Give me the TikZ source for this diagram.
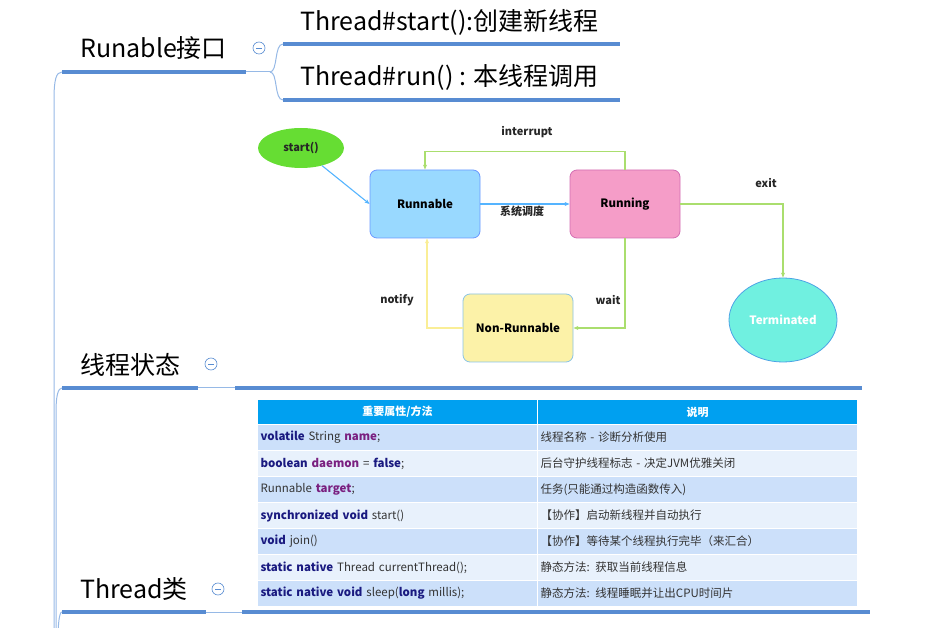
\documentclass[tikz,border=0pt]{standalone}
\usepackage{fontspec}
\setmainfont{Noto Sans CJK SC}
\usetikzlibrary{arrows.meta, shapes.geometric, positioning, calc}
\definecolor{mapline}{RGB}{88,140,210}
\definecolor{mapthin}{RGB}{150,185,230}
\definecolor{cstart}{RGB}{102,221,51}
\definecolor{crunnable}{RGB}{153,217,255}
\definecolor{crunning}{RGB}{245,157,200}
\definecolor{cnonrun}{RGB}{252,242,168}
\definecolor{cterm}{RGB}{112,240,224}
\definecolor{cflowblue}{RGB}{85,180,255}
\definecolor{cflowgreen}{RGB}{170,222,110}
\definecolor{cflowyellow}{RGB}{250,238,150}
\definecolor{thead}{RGB}{0,160,240}
\definecolor{trowa}{RGB}{204,224,250}
\definecolor{trowb}{RGB}{232,241,252}
\definecolor{kwnavy}{RGB}{26,26,128}
\definecolor{kwpurple}{RGB}{122,32,128}
\definecolor{tgray}{RGB}{51,51,51}
\newcommand{\kw}[1]{\textbf{\color{kwnavy}#1}}
\newcommand{\idf}[1]{\textbf{\color{kwpurple}#1}}

\begin{document}
\begin{tikzpicture}[
    x=1pt, y=-1pt,
    topic/.style={font=\fontsize{25}{29}\selectfont, anchor=west, inner sep=0pt},
    underline/.style={draw=mapline, line width=3.5pt},
    thinline/.style={draw=mapthin, line width=1pt},
    fold/.style={
      circle, draw=mapline, line width=0.6pt, fill=white,
      minimum size=12pt, inner sep=0pt,
      path picture={\draw[mapline, line width=0.6pt]
        ([xshift=-3pt]path picture bounding box.center) --
        ([xshift=3pt]path picture bounding box.center);}
    },
    statebox/.style={
      rectangle, rounded corners=7pt, line width=0.8pt,
      minimum width=110pt, minimum height=68pt,
      font=\fontsize{11.5}{14}\selectfont\bfseries
    },
    flow/.style={-{Stealth[length=5pt, width=4pt]}, line width=1.1pt},
    lbl/.style={font=\fontsize{11}{13}\selectfont\bfseries, text=black!85},
    cell/.style={
      rectangle, draw=white, line width=1pt, anchor=north west,
      minimum height=26pt, inner xsep=3pt, inner ysep=0pt,
      align=left, font=\fontsize{11.5}{13}\selectfont, text=tgray
    }
  ]
  \useasboundingbox (0,0) rectangle (943,628);

  % ---- Trunk of the mind map ----
  \coordinate (r1L) at (62,72);
  \coordinate (r2L) at (62,388);
  \coordinate (r3L) at (62,612);
  \draw[thinline] (54,640) -- (54,100) .. controls (54,80) and (56,72) .. (r1L);
  \draw[thinline] (56,640) -- (56,412) .. controls (56,396) and (58,388) .. (r2L);
  \draw[thinline] (58,640) .. controls (58,626) and (59,612) .. (r3L);

  % ---- Runable branch ----
  \node[topic] (runable) at (80,48) {Runable接口};
  \node[fold] (fold1) at (259,48) {};
  \coordinate (r1M) at (246,72);
  \coordinate (r1J) at (270,72);
  \draw[underline] (r1L) -- (r1M);
  \draw[thinline] (r1M) -- (r1J);

  \node[topic] (tstart) at (300,22) {Thread\#start():创建新线程};
  \node[topic] (trun) at (300,77) {Thread\#run() : 本线程调用};
  \coordinate (s1L) at (283,44);
  \coordinate (s2L) at (283,100);
  \draw[thinline] (r1J) .. controls (278,72) and (274,44) .. (s1L);
  \draw[thinline] (r1J) .. controls (278,72) and (274,100) .. (s2L);
  \draw[underline] (s1L) -- (620,44);
  \draw[underline] (s2L) -- (620,100);

  % ---- State diagram ----
  \node[ellipse, fill=cstart, minimum width=86pt, minimum height=40pt, lbl]
    (startN) at (301,148) {start()};
  \node[statebox, fill=crunnable, draw=crunnable!70!blue]
    (runnable) at (425,204) {Runnable};
  \node[statebox, fill=crunning, draw=crunning!70!violet]
    (running) at (625,204) {Running};
  \node[statebox, fill=cnonrun, draw=crunnable!90!black]
    (nonrun) at (518,328) {Non-Runnable};
  \node[ellipse, fill=cterm, draw=cflowblue!90!black, line width=0.8pt,
        minimum width=108pt, minimum height=84pt, text=white,
        font=\fontsize{11.5}{14}\selectfont\bfseries]
    (term) at (783,320) {Terminated};

  \draw[flow, cflowblue] (startN.-40) -- (runnable.west);
  \draw[flow, cflowblue] (runnable.east) -- (running.west);
  \draw[flow, cflowgreen] (running.north) -- ++(0,-18) -| (runnable.north);
  \draw[flow, cflowgreen] (running.east) -| (term.north);
  \draw[flow, cflowgreen] (running.south) |- (nonrun.east);
  \draw[flow, cflowyellow] (nonrun.west) -| ([xshift=2pt]runnable.south);

  \node[lbl] (lsched)  at (522,211) {系统调度};
  \node[lbl] (lintr)   at (527,132) {interrupt};
  \node[lbl] (lexit)   at (766,183) {exit};
  \node[lbl] (lwait)   at (608,300) {wait};
  \node[lbl] (lnotify) at (397,300) {notify};

  % ---- State branch ----
  \node[topic] (states) at (80,365) {线程状态};
  \node[fold] (fold2) at (211,364) {};
  \draw[underline] (r2L) -- (198,388);
  \draw[thinline] (198,388) -- (235,388);
  \draw[underline] (235,388) -- (862,388);

  % ---- Thread table ----
  \node[cell, fill=thead, minimum width=280pt, text=white, align=center, font=\fontsize{11}{13}\selectfont\bfseries,
        minimum height=25pt] (h1) at (257,399) {重要属性/方法};
  \node[cell, fill=thead, minimum width=320pt, text=white, align=center, font=\fontsize{11}{13}\selectfont\bfseries,
        minimum height=25pt] (h2) at (537,399) {说明};
  \foreach \a/\b/\c [count=\i] in {
      {\kw{volatile} String \idf{name};}/{线程名称 - 诊断分析使用}/trowa,
      {\kw{boolean} \idf{daemon} = \kw{false};}/{后台守护线程标志 - 决定JVM优雅关闭}/trowb,
      {Runnable \idf{target};}/{任务(只能通过构造函数传入)}/trowa,
      {\kw{synchronized void} start()}/{【协作】启动新线程并自动执行}/trowb,
      {\kw{void} join()}/{【协作】等待某个线程执行完毕（来汇合）}/trowa,
      {\kw{static native} Thread currentThread();}/{静态方法: 获取当前线程信息}/trowb,
      {\kw{static native void} sleep(\kw{long} millis);}/{静态方法: 线程睡眠并让出CPU时间片}/trowa}{
    \node[cell, fill=\c, text width=274pt] (a\i) at (257,{398+26*\i}) {\a};
    \node[cell, fill=\c, text width=314pt] (b\i) at (537,{398+26*\i}) {\b};
  }

  % ---- Thread branch ----
  \node[topic] (threadcls) at (80,589) {Thread类};
  \node[fold] (fold3) at (218,589) {};
  \draw[underline] (r3L) -- (206,612);
  \draw[thinline] (206,612) -- (242,612);
  \draw[underline] (242,612) -- (870,612);
\end{tikzpicture}
\end{document}
